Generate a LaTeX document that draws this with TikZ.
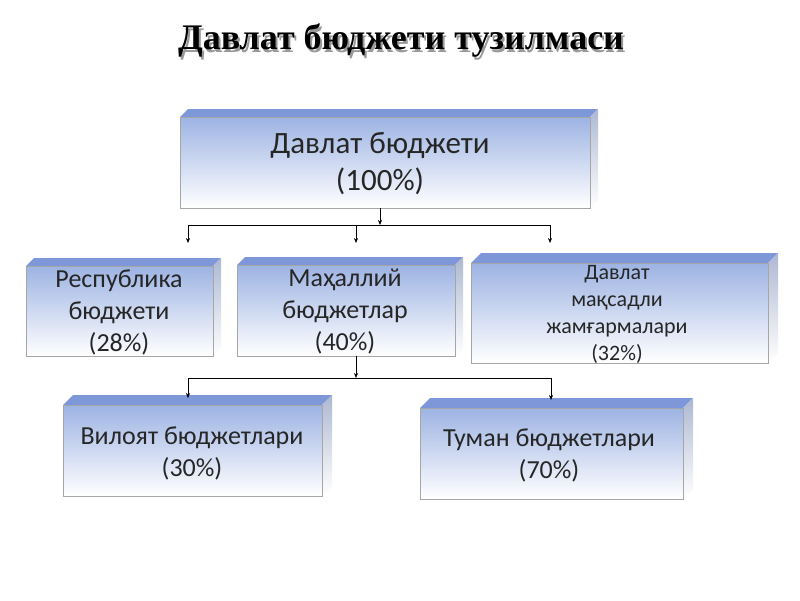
\documentclass[tikz,border=0pt]{standalone}
\usepackage{fontspec}
\setmainfont{Carlito}
\newfontfamily\titlefont{Liberation Serif}
\usetikzlibrary{arrows.meta}
\definecolor{topc}{HTML}{7E97D9}
\definecolor{frontc}{HTML}{9DB3E3}
\definecolor{sidec}{HTML}{B8C6E6}
\tikzset{
  conn/.style={draw=black,line width=0.6pt},
  arr/.style={conn,-{Stealth[length=5pt,width=4pt]}},
  lbl/.style={align=center,text=black!85,inner sep=0pt}
}
\newcommand{\bbox}[6]{% name, x1,y1,x2,y2,depth
  \fill[topc] (#2,#3) -- (#2+#6,#3-#6) -- (#4+#6,#3-#6) -- (#4,#3) -- cycle;
  \shade[top color=sidec!80!gray, bottom color=white] (#4,#3) -- (#4+#6,#3-#6) -- (#4+#6,#5-#6) -- (#4,#5) -- cycle;
  \shade[top color=frontc, bottom color=white] (#2,#3) rectangle (#4,#5);
  \draw[black!35,line width=0.4pt] (#2,#3) rectangle (#4,#5);
  \coordinate (#1) at ({(#2+#4)/2},{(#3+#5)/2});
}
\begin{document}
\begin{tikzpicture}[x=1pt,y=-1pt]
\useasboundingbox (0,0) rectangle (800,600);
\fill[white] (0,0) rectangle (800,600);
\node[font=\titlefont\bfseries\fontsize{36}{40}\selectfont,text=black!40] (ts) at (403,43) {Давлат бюджети тузилмаси};
\node[font=\titlefont\bfseries\fontsize{36}{40}\selectfont] (title) at (401,40) {Давлат бюджети тузилмаси};

\bbox{A}{180}{117}{590}{208}{8}
\bbox{B}{26}{266}{213}{356}{8}
\bbox{C}{237}{265}{455}{356}{8}
\bbox{D}{471}{263}{768}{363}{10}
\bbox{E}{63}{405}{322}{496}{10}
\bbox{F}{420}{408}{683}{499}{10}

\node[lbl,font=\fontsize{31}{37}\selectfont] (tA) at (380,164) {Давлат бюджети\\(100\%)};
\node[lbl,font=\fontsize{26}{32}\selectfont] (tB) at (119,312) {Республика\\бюджети\\(28\%)};
\node[lbl,font=\fontsize{26}{32}\selectfont] (tC) at (345,312) {Маҳаллий\\бюджетлар\\(40\%)};
\node[lbl,font=\fontsize{22}{27}\selectfont] (tD) at (617,314) {Давлат\\мақсадли\\жамғармалари\\(32\%)};
\node[lbl,font=\fontsize{26}{32}\selectfont] (tE) at (192,453) {Вилоят бюджетлари\\(30\%)};
\node[lbl,font=\fontsize{26}{32}\selectfont] (tF) at (549,455) {Туман бюджетлари\\(70\%)};

\coordinate (a0) at (380,208);
\coordinate (a1) at (380,225);
\coordinate (h1) at (188,225);
\coordinate (h2) at (550,225);
\coordinate (m1) at (356,225);
\draw[arr] (a0) -- (a1);
\draw[conn] (h1) -- (h2);
\draw[arr] (h1) -- (188,243);
\draw[arr] (m1) -- (356,243);
\draw[arr] (h2) -- (550,243);

\coordinate (b0) at (356,356);
\coordinate (b1) at (356,378);
\coordinate (g1) at (188,378);
\coordinate (g2) at (551,378);
\draw[arr] (b0) -- (b1);
\draw[conn] (g1) -- (g2);
\draw[arr] (g1) -- (188,398);
\draw[arr] (g2) -- (551,400);
\end{tikzpicture}
\end{document}
